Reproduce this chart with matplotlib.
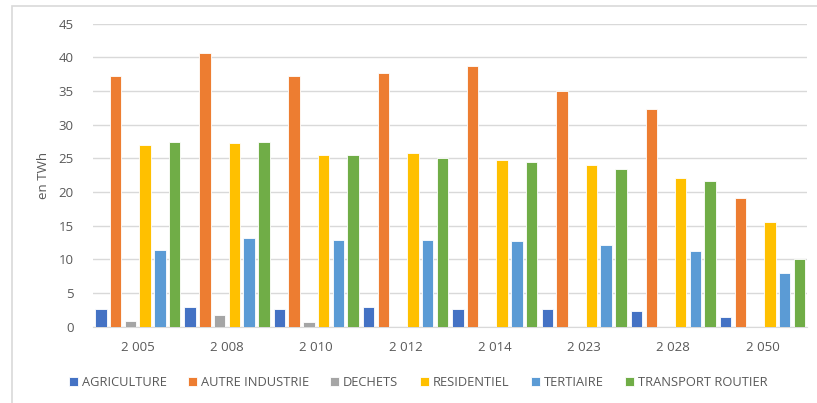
import matplotlib.pyplot as plt
import numpy as np
from matplotlib.patches import Rectangle

annees = ['2 005', '2 008', '2 010', '2 012', '2 014', '2 023', '2 028', '2 050']
agriculture = [2.7, 2.9, 2.6, 2.9, 2.6, 2.6, 2.3, 1.4]
autre_industrie = [37.3, 40.6, 37.2, 37.7, 38.7, 35.0, 32.4, 19.2]
dechets = [0.9, 1.7, 0.7, 0, 0, 0, 0, 0]
residentiel = [27.0, 27.3, 25.5, 25.8, 24.8, 24.1, 22.1, 15.5]
tertiaire = [11.4, 13.2, 12.9, 12.9, 12.7, 12.1, 11.2, 8.0]
transport_routier = [27.5, 27.5, 25.5, 25.0, 24.5, 23.4, 21.6, 10.0]

series = [
    ('AGRICULTURE', agriculture, '#4472C4'),
    ('AUTRE INDUSTRIE', autre_industrie, '#ED7D31'),
    ('DECHETS', dechets, '#A5A5A5'),
    ('RESIDENTIEL', residentiel, '#FFC000'),
    ('TERTIAIRE', tertiaire, '#5B9BD5'),
    ('TRANSPORT ROUTIER', transport_routier, '#70AD47'),
]

plt.rcParams['font.family'] = ['Open Sans', 'DejaVu Sans']

fig = plt.figure(figsize=(8.17, 4.03), dpi=100)
ax = fig.add_axes([0.114, 0.189, 0.874, 0.752])

# cadre gris autour du graphique
fig.patches.append(Rectangle((12 / 817, -0.05), 1.0, 1 - 5.5 / 403 + 0.05,
                             transform=fig.transFigure, fill=False,
                             edgecolor='#D9D9D9', linewidth=1.2))

x = np.arange(len(annees))
pas = 0.165
largeur = 0.128
for i, (nom, vals, couleur) in enumerate(series):
    ax.bar(x + (i - 2.5) * pas, vals, width=largeur, color=couleur,
           edgecolor='white', linewidth=0.6, label=nom, zorder=3)

ax.set_xlim(-0.5, len(annees) - 0.5)
ax.set_ylim(0, 45)
ax.set_yticks(range(0, 46, 5))
ax.set_xticks(x)
ax.set_xticklabels(annees)
ax.grid(axis='y', color='#D9D9D9', linewidth=1, zorder=0)
for s in ['top', 'right', 'left']:
    ax.spines[s].set_visible(False)
ax.spines['bottom'].set_color('#D9D9D9')
ax.tick_params(axis='both', length=0, labelsize=9.5, colors='#595959')
ax.tick_params(axis='x', pad=10)
ax.tick_params(axis='y', pad=14)
ax.set_ylabel('en TWh', fontsize=9.5, color='#595959', labelpad=6)

ax.legend(loc='upper center', bbox_to_anchor=(0.455, -0.125), ncol=6,
          frameon=False, fontsize=9.3, handlelength=0.7, handleheight=0.7,
          handletextpad=0.3, columnspacing=1.65, labelcolor='#595959')

fig.savefig('out.png', dpi=100)
